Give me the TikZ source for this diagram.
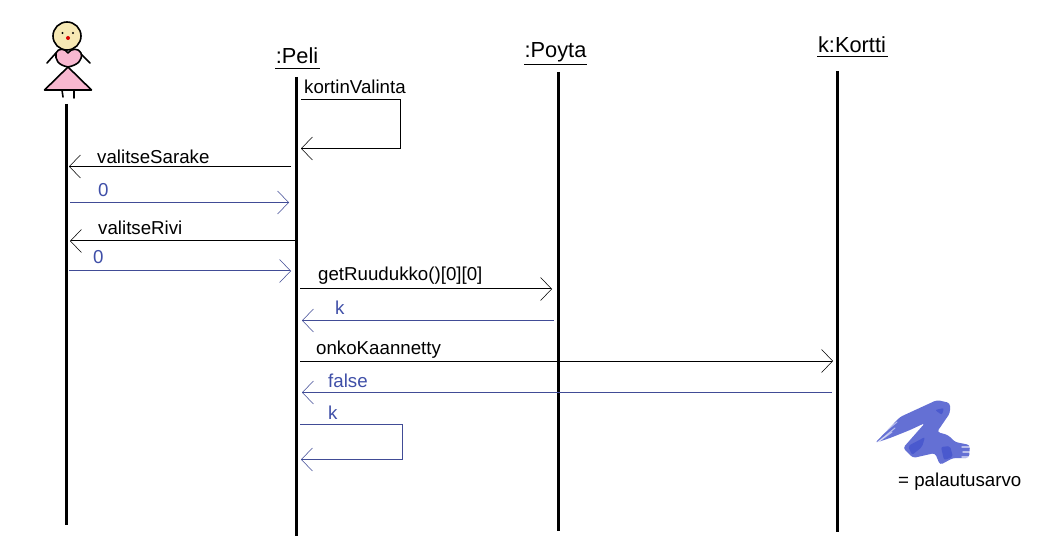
\documentclass[tikz,border=0pt]{standalone}
\usepackage{fontspec}
\setmainfont{Liberation Sans}
\usetikzlibrary{arrows.meta}
\definecolor{retline}{HTML}{414C96}
\definecolor{rettext}{HTML}{3F4FA8}
\definecolor{scrib}{HTML}{6470D4}
\definecolor{scribdark}{HTML}{3F50CC}
\definecolor{skin}{HTML}{F6E8B4}
\definecolor{dress}{HTML}{F8B8D0}
\tikzset{
  x=1pt,y=-1pt,
  lifeline/.style={line width=3pt,black},
  callarrow/.style={line width=1pt,black,-{Straight Barb[length=11pt,width=23pt,line width=0.55pt]}},
  retarrow/.style={line width=1pt,retline,-{Straight Barb[length=11pt,width=23pt,line width=0.55pt]}},
  msg/.style={anchor=base west,inner sep=0pt,font=\fontsize{18.7}{20}\selectfont,text=black},
  retmsg/.style={msg,text=rettext},
  head/.style={anchor=base,inner sep=0pt,font=\fontsize{21.8}{23}\selectfont,text=black},
  uline/.style={line width=1pt,black},
  fig/.style={line width=1.6pt,black,line join=round,line cap=round},
  brush/.style={fill=scrib,rounded corners=3pt},
  brushdark/.style={fill=scribdark,rounded corners=2pt,opacity=.7},
  streak/.style={white,line cap=round,opacity=.55},
}
\begin{document}
\begin{tikzpicture}
\useasboundingbox[fill=white] (0,0) rectangle (1061,556);
% lifelines
\coordinate (a1) at (66.5,104); \coordinate (a2) at (66.5,525);
\coordinate (b1) at (296.5,77); \coordinate (b2) at (296.5,536);
\coordinate (c1) at (558,72);   \coordinate (c2) at (558,531);
\coordinate (d1) at (837,71);   \coordinate (d2) at (837,532);
\draw[lifeline] (a1) -- (a2);
\draw[lifeline] (b1) -- (b2);
\draw[lifeline] (c1) -- (c2);
\draw[lifeline] (d1) -- (d2);
% headers
\node[head] (hb) at (297,64) {:Peli};
\node[head] (hc) at (555.5,58) {:Poyta};
\node[head] (hd) at (852,52.5) {k:Kortti};
\coordinate (ub1) at (275,68.5);  \coordinate (ub2) at (320,68.5);
\coordinate (uc1) at (524,64.5);  \coordinate (uc2) at (587,64.5);
\coordinate (ud1) at (817,56.5);  \coordinate (ud2) at (888,56.5);
\draw[uline] (ub1) -- (ub2);
\draw[uline] (uc1) -- (uc2);
\draw[uline] (ud1) -- (ud2);
% messages
\node[msg] (m1) at (304,93.5) {kortinValinta};
\coordinate (p1a) at (301,99.5); \coordinate (p1b) at (400,99.5);
\coordinate (p1c) at (400,148.5); \coordinate (p1d) at (301,148.5);
\draw[callarrow] (p1a) -- (p1b) -- (p1c) -- (p1d);
\node[msg] (m2) at (97,163.5) {valitseSarake};
\coordinate (p2a) at (291,166.5); \coordinate (p2b) at (69,166.5);
\draw[callarrow] (p2a) -- (p2b);
\node[retmsg] (m3) at (98,196.5) {0};
\coordinate (p3a) at (70,202.5); \coordinate (p3b) at (289,202.5);
\draw[retarrow] (p3a) -- (p3b);
\node[msg] (m4) at (98,234.5) {valitseRivi};
\coordinate (p4a) at (296,241); \coordinate (p4b) at (70,241);
\draw[callarrow] (p4a) -- (p4b);
\node[retmsg] (m5) at (93,263.5) {0};
\coordinate (p5a) at (69,271); \coordinate (p5b) at (291,271);
\draw[retarrow] (p5a) -- (p5b);
\node[msg] (m6) at (318,280.5) {getRuudukko()[0][0]};
\coordinate (p6a) at (300,289); \coordinate (p6b) at (552,289);
\draw[callarrow] (p6a) -- (p6b);
\node[retmsg] (m7) at (335,315) {k};
\coordinate (p7a) at (554,320.5); \coordinate (p7b) at (302,320.5);
\draw[retarrow] (p7a) -- (p7b);
\node[msg] (m8) at (316,354) {onkoKaannetty};
\coordinate (p8a) at (300,361); \coordinate (p8b) at (833,361);
\draw[callarrow] (p8a) -- (p8b);
\node[retmsg] (m9) at (328,387) {false};
\coordinate (p9a) at (832,392.5); \coordinate (p9b) at (302,392.5);
\draw[retarrow] (p9a) -- (p9b);
\node[retmsg] (m10) at (328,419) {k};
\coordinate (p10a) at (300,424.5); \coordinate (p10b) at (402,424.5);
\coordinate (p10c) at (402,459.5); \coordinate (p10d) at (301,459.5);
\draw[retarrow] (p10a) -- (p10b) -- (p10c) -- (p10d);
% stick figure
\draw[fig,fill=skin] (67,36) circle (14);
\fill (62.5,33) circle (1.1);
\fill (73,33) circle (1.1);
\fill[red!85!black] (68,38) circle (2);
\draw[fig] (56,53) -- (47,63);
\draw[fig] (80,53) -- (90,63);
\draw[fig,fill=dress] (68,67) -- (44.5,90) -- (91.5,90) -- cycle;
\draw[fig,fill=dress] (68,67) .. controls (58,65) and (55,60) .. (56,53)
  .. controls (58,48) and (65,48) .. (68,53)
  .. controls (71,48) and (79,48) .. (81,53)
  .. controls (83,60) and (78,65) .. (68,67) -- cycle;
\draw[fig] (62,90) -- (63,97);
\draw[fig] (74,90) -- (74,98);
% brush legend
\path[brush] (875,443) -- (900,417) -- (937,400) -- (950,403) -- (950,413) -- (937,432)
  -- (948,435) -- (955,442) -- (970,445) -- (969,458) -- (953,458) -- (940,465) -- (935,453)
  -- (913,458) -- (903,448) -- (925,423) -- (910,430) -- (890,438) -- cycle;
\path[brushdark] (908,446) -- (925,437) -- (922,447) -- (912,455) -- cycle;
\path[brushdark] (935,410) -- (944,408) -- (942,415) -- cycle;
\path[brushdark] (941,447) -- (950,446) -- (953,457) -- (944,460) -- cycle;
\draw[streak,line width=1.2pt] (874,445) -- (892,432);
\draw[streak,line width=1pt] (880,436) -- (897,422);
\draw[streak,line width=1pt] (878,442) -- (895,428);
\draw[streak,line width=1.5pt] (962,447) -- (971,447);
\draw[streak,line width=1.5pt] (963,452) -- (971,452);
\draw[streak,line width=1.5pt] (962,457) -- (970,457);
\node[msg] (legend) at (898,486.5) {= palautusarvo};
\end{tikzpicture}
\end{document}
